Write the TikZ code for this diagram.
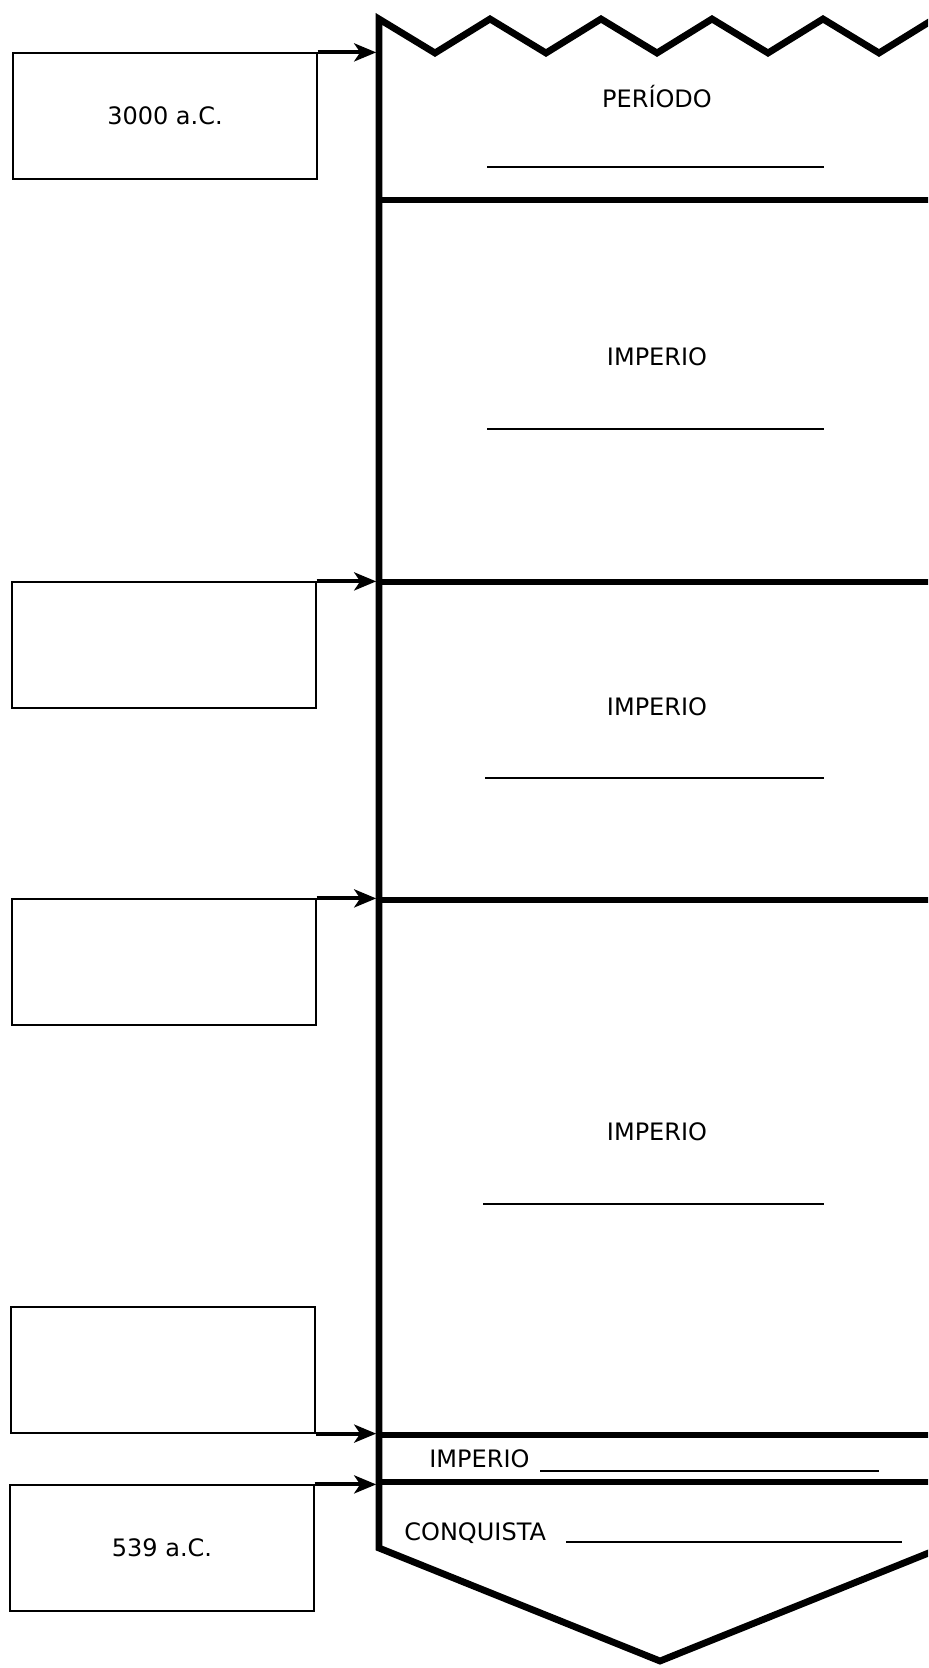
\documentclass[tikz,border=0pt]{standalone}
\usepackage{fontspec}
\setmainfont{DejaVu Sans}
\usetikzlibrary{arrows.meta}

\begin{document}
\begin{tikzpicture}[x=0.5pt, y=-0.5pt, datebox/.style={draw, line width=0.6pt, minimum width=152pt, minimum height=63pt, inner sep=0pt, font=\fontsize{12}{14}\selectfont}, lbl/.style={font=\fontsize{12}{14}\selectfont}, band/.style={line width=3.4pt, line join=miter}, blank/.style={line width=0.7pt}, arr/.style={-{Stealth[length=11pt, width=9pt, inset=3pt]}, line width=2pt, shorten >=1.4pt}]
\clip (0,0) rectangle (928,1668);
\coordinate (bl) at (379,0);
% banner
\draw[band] (379,1548) -- (379,19) -- (435,53) -- (490,19) -- (546,53) -- (601,19) -- (657,53) -- (712,19) -- (768,53) -- (823,19) -- (879,53) -- (934,19) -- (941,23) -- (941,1548) -- (660,1661) -- cycle;
\foreach \y in {200,582,900,1435,1482}
  \draw[band] (379,\y) -- (941,\y);
% dates
\node[datebox] (d1) at (165,116) {3000 a.C.};
\node[datebox] (d2) at (164,645) {};
\node[datebox] (d3) at (164,962) {};
\node[datebox] (d4) at (163,1370) {};
\node[datebox] (d5) at (162,1548) {539 a.C.};
\draw[arr] (d1.north east) -- (d1.north east -| bl);
\draw[arr] (d2.north east) -- (d2.north east -| bl);
\draw[arr] (d3.north east) -- (d3.north east -| bl);
\draw[arr] (d4.south east) -- (d4.south east -| bl);
\draw[arr] (d5.north east) -- (d5.north east -| bl);
% periods
\node[lbl] (per) at (657,97) {PERÍODO};
\draw[blank] (487,167) -- (824,167);
\node[lbl] (imp1) at (657,357) {IMPERIO};
\draw[blank] (487,429) -- (824,429);
\node[lbl] (imp2) at (657,707) {IMPERIO};
\draw[blank] (485,778) -- (824,778);
\node[lbl] (imp3) at (657,1132) {IMPERIO};
\draw[blank] (483,1204) -- (824,1204);
\node[lbl, anchor=base west, inner sep=0pt] (imp4) at (429,1467) {IMPERIO};
\draw[blank] (540,1471) -- (879,1471);
\node[lbl, anchor=base west, inner sep=0pt] (conq) at (404,1540) {CONQUISTA};
\draw[blank] (566,1542) -- (902,1542);
\end{tikzpicture}
\end{document}
